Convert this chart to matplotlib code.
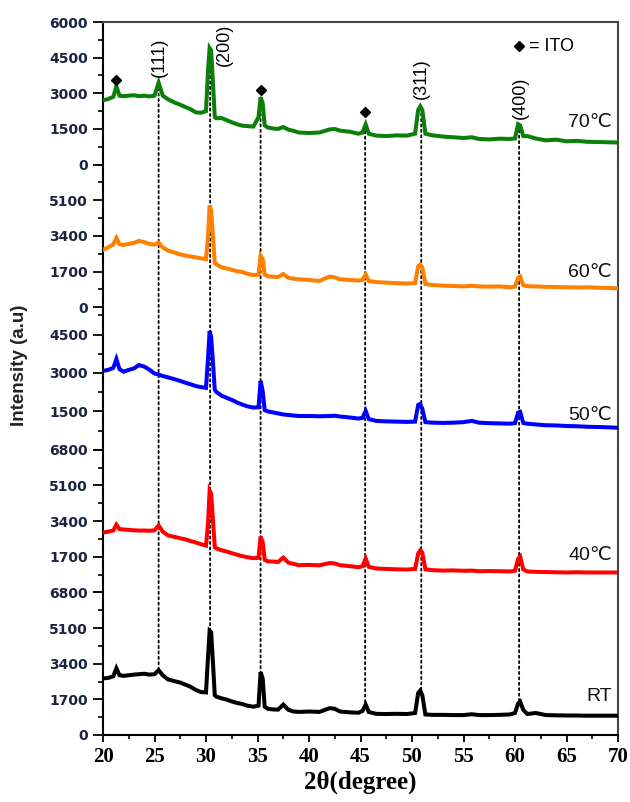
import numpy as np
import matplotlib
matplotlib.use("Agg")
import matplotlib.pyplot as plt
from matplotlib.patches import ConnectionPatch
from matplotlib.ticker import FixedLocator, MultipleLocator

# ---- XRD data (2theta in degrees, intensity in counts) ----
two_theta = [20.0, 20.5, 21.0, 21.3, 21.6, 22.0, 22.5, 23.0, 23.5, 24.0,
             24.5, 25.0, 25.4, 25.8, 26.3, 27.0, 27.5, 28.0, 28.5, 29.0,
             29.5, 30.0, 30.2, 30.35, 30.5, 30.7, 30.85, 31.0, 31.5, 32.0,
             32.5, 33.0, 33.5, 34.0, 34.6, 35.1, 35.3, 35.5, 35.7, 36.0,
             36.5, 37.0, 37.5, 38.0, 38.5, 39.0, 40.0, 41.0, 42.0, 42.5,
             43.0, 44.0, 44.8, 45.2, 45.5, 45.8, 46.5, 47.5, 48.5, 49.5,
             50.3, 50.6, 50.8, 51.0, 51.3, 52.0, 53.0, 54.0, 55.0, 55.8,
             56.5, 57.5, 58.5, 59.5, 60.0, 60.3, 60.5, 60.8, 61.2, 62.0,
             63.0, 64.0, 65.0, 66.0, 67.0, 68.0, 69.0, 70.0]

int_70c = [2700, 2760, 2850, 3300, 2900, 2880, 2900, 2920, 2880, 2900,
           2870, 2900, 3450, 2900, 2750, 2600, 2520, 2420, 2330, 2200,
           2180, 2250, 4000, 4900, 4800, 3250, 2000, 1950, 1960, 1870,
           1780, 1700, 1640, 1620, 1600, 2000, 2830, 2600, 1650, 1560,
           1520, 1500, 1580, 1470, 1420, 1350, 1330, 1350, 1480, 1500,
           1430, 1380, 1300, 1350, 1690, 1300, 1220, 1200, 1230, 1220,
           1300, 2300, 2450, 2300, 1300, 1230, 1180, 1150, 1120, 1150,
           1080, 1060, 1090, 1080, 1100, 1700, 1650, 1200, 1200, 1100,
           1020, 1050, 980, 1000, 960, 950, 940, 930]

int_60c = [2740, 2850, 3000, 3300, 3000, 2970, 3020, 3070, 3160, 3100,
           3020, 2980, 3080, 2850, 2700, 2600, 2520, 2460, 2420, 2380,
           2330, 2290, 3400, 4860, 4600, 3200, 2100, 2050, 1900, 1850,
           1780, 1720, 1680, 1600, 1530, 1550, 2460, 2300, 1550, 1480,
           1450, 1440, 1580, 1400, 1360, 1330, 1300, 1250, 1460, 1420,
           1330, 1300, 1270, 1300, 1560, 1250, 1200, 1170, 1150, 1130,
           1150, 1950, 2030, 1900, 1100, 1060, 1030, 1010, 990, 1020,
           990, 980, 990, 950, 980, 1400, 1460, 1050, 1000, 990,
           970, 960, 950, 940, 950, 930, 920, 900]

int_50c = [3080, 3120, 3200, 3545, 3150, 3050, 3120, 3180, 3310, 3250,
           3130, 2980, 2940, 2880, 2830, 2750, 2690, 2620, 2560, 2490,
           2450, 2420, 3600, 4640, 4400, 3270, 2350, 2260, 2120, 2030,
           1950, 1850, 1770, 1700, 1650, 1660, 2690, 2300, 1550, 1500,
           1460, 1420, 1380, 1360, 1340, 1320, 1320, 1310, 1320, 1330,
           1300, 1260, 1220, 1250, 1520, 1200, 1130, 1110, 1100, 1090,
           1100, 1750, 1790, 1600, 1080, 1060, 1050, 1060, 1080, 1130,
           1060, 1040, 1030, 1020, 1040, 1450, 1480, 1050, 1020, 990,
           960, 950, 930, 920, 900, 890, 880, 860]

int_40c = [2850, 2900, 2950, 3230, 3020, 3000, 2980, 2960, 2950, 2950,
           2940, 2960, 3190, 2900, 2720, 2640, 2580, 2530, 2450, 2380,
           2300, 2230, 3300, 4850, 4700, 3280, 2150, 2100, 2010, 1950,
           1870, 1800, 1730, 1680, 1630, 1650, 2660, 2400, 1550, 1480,
           1470, 1450, 1660, 1420, 1360, 1300, 1310, 1290, 1400, 1380,
           1300, 1250, 1200, 1250, 1620, 1220, 1140, 1120, 1100, 1090,
           1120, 1850, 2000, 1900, 1100, 1060, 1040, 1050, 1030, 1040,
           1010, 1020, 1010, 1000, 1030, 1600, 1710, 1100, 1000, 980,
           970, 960, 950, 960, 950, 950, 950, 950]

int_rt = [2700, 2720, 2800, 3180, 2850, 2820, 2850, 2880, 2900, 2920,
          2880, 2900, 3090, 2850, 2650, 2560, 2500, 2400, 2300, 2150,
          2050, 2030, 3760, 4970, 4900, 3230, 1900, 1830, 1750, 1690,
          1600, 1530, 1480, 1400, 1350, 1400, 2990, 2700, 1350, 1250,
          1220, 1210, 1450, 1200, 1120, 1100, 1120, 1100, 1280, 1250,
          1120, 1080, 1060, 1150, 1450, 1100, 1010, 1000, 1010, 1000,
          1050, 2000, 2120, 1900, 980, 960, 960, 950, 950, 990,
          950, 950, 960, 980, 1050, 1500, 1590, 1200, 1000, 1050,
          950, 940, 930, 930, 920, 920, 920, 920]

sample_names = ["70\u2103", "60\u2103", "50\u2103", "40\u2103", "RT"]
sample_data = [int_70c, int_60c, int_50c, int_40c, int_rt]
sample_colors = ["#0a800a", "#ff8000", "#0000ff", "#ff0000", "#000000"]

y_tops = [6000, 6800, 5570, 6800, 6800]
y_major_ticks = [[0, 1500, 3000, 4500, 6000],
                 [0, 1700, 3400, 5100],
                 [0, 1500, 3000, 4500],
                 [0, 1700, 3400, 5100, 6800],
                 [0, 1700, 3400, 5100, 6800]]
# the zero label of a panel is hidden where the panel below labels its top
y_major_labels = [["0", "1500", "3000", "4500", "6000"],
                  ["0", "1700", "3400", "5100"],
                  ["", "1500", "3000", "4500"],
                  ["", "1700", "3400", "5100", "6800"],
                  ["0", "1700", "3400", "5100", "6800"]]
y_minor_step = [750, 850, 750, 850, 850]

# reflection positions (dotted guides)
reflection_2theta = [25.4, 30.4, 35.3, 45.45, 50.9, 60.4]
# ITO reflections marked with diamonds on the top pattern
ito_2theta = [21.3, 35.3, 45.45]
ito_marker_y = [3550, 3130, 2200]
# Miller indices of the film
hkl_text = ["(111)", "(200)", "(311)", "(400)"]
hkl_x = [25.5, 31.75, 50.9, 60.5]
hkl_y = [4500, 5030, 3600, 2830]

# label heights for each sample name (in each panel's own units)
name_y = [1775, 1650, 1325, 1760, 1830]

tick_color = "#1c2340"
sans = ["Liberation Sans", "DejaVu Sans"]

fig = plt.figure(figsize=(6.3, 8.02), dpi=100, facecolor="white")
gs = fig.add_gridspec(5, 1, left=103 / 630, right=618 / 630,
                      top=1 - 22 / 802, bottom=1 - 735 / 802, hspace=0)
axes = [fig.add_subplot(gs[i]) for i in range(5)]
for i in range(1, 5):
    axes[i].sharex(axes[0])

for i, ax in enumerate(axes):
    ax.patch.set_visible(False)
    ax.plot(two_theta, sample_data[i], color=sample_colors[i], lw=2.9,
            solid_joinstyle="miter", zorder=3)
    ax.set_xlim(20, 70)
    ax.set_ylim(0, y_tops[i])
    ax.yaxis.set_major_locator(FixedLocator(y_major_ticks[i]))
    ax.yaxis.set_minor_locator(MultipleLocator(y_minor_step[i]))
    ax.set_yticklabels(y_major_labels[i],
                       fontsize=10, fontweight="bold", family="DejaVu Sans",
                       color=tick_color)
    ax.tick_params(axis="y", which="major", direction="out", length=7,
                   width=1.3, pad=4)
    ax.tick_params(axis="y", which="minor", direction="out", length=3.6,
                   width=1.2)
    ax.tick_params(axis="y", right=False)
    for side in ("left", "right"):
        ax.spines[side].set_linewidth(1.5)
    ax.spines["right"].set_color("#444444")
    ax.spines["top"].set_visible(i == 0)
    ax.spines["top"].set_linewidth(1.5)
    ax.spines["top"].set_color("#444444")
    ax.spines["bottom"].set_visible(i == 4)
    ax.spines["bottom"].set_linewidth(1.5)
    if i < 4:
        ax.tick_params(axis="x", which="both", bottom=False, labelbottom=False)
    ax.text(0.988, name_y[i], sample_names[i], transform=ax.get_yaxis_transform(),
            ha="right", va="center", fontsize=14, family=sans, color="#111111")

bottom = axes[4]
bottom.xaxis.set_major_locator(MultipleLocator(5))
bottom.xaxis.set_minor_locator(MultipleLocator(2.5))
bottom.tick_params(axis="x", which="major", direction="out", length=5,
                   width=1.3, pad=4)
bottom.tick_params(axis="x", which="minor", direction="out", length=3,
                   width=1.2)
for lab in bottom.get_xticklabels():
    lab.set_fontsize(15)
    lab.set_fontweight("bold")
    lab.set_family("Liberation Serif")
bottom.set_xlabel("2\u03b8(degree)", fontsize=18, fontweight="bold",
                  family=["Liberation Serif", "DejaVu Serif"], labelpad=2)

# ITO markers and legend
top = axes[0]
top.plot(ito_2theta, ito_marker_y, linestyle="none", marker="D",
         markersize=5.5, color="black", zorder=4)
top.plot([0.808], [0.831], transform=top.transAxes, marker="D",
         markersize=5.5, color="black", linestyle="none")
top.text(0.828, 0.831, "= ITO", transform=top.transAxes, ha="left",
         va="center", fontsize=13, family=sans)

for txt, hx, hy in zip(hkl_text, hkl_x, hkl_y):
    top.text(hx, hy, txt, rotation=90, ha="center", va="center",
             fontsize=13, family=sans)

# dotted guides running from the top pattern down to the RT pattern
for x in reflection_2theta:
    y_a = float(np.interp(x, two_theta, int_70c))
    y_b = float(np.interp(x, two_theta, int_rt))
    con = ConnectionPatch(xyA=(x, y_a), coordsA=top.transData,
                          xyB=(x, y_b), coordsB=bottom.transData,
                          linestyle=(0, (1.2, 1.8)), lw=1.3, color="black",
                          zorder=-1, clip_on=False)
    fig.add_artist(con)

fig.text(20 / 630, 1 - 365 / 802, "Intensity (a.u)", rotation=90,
         ha="center", va="center", fontsize=13.5, fontweight="bold",
         family=sans, color="#222222")

fig.savefig("out.png", dpi=100, facecolor="white")
